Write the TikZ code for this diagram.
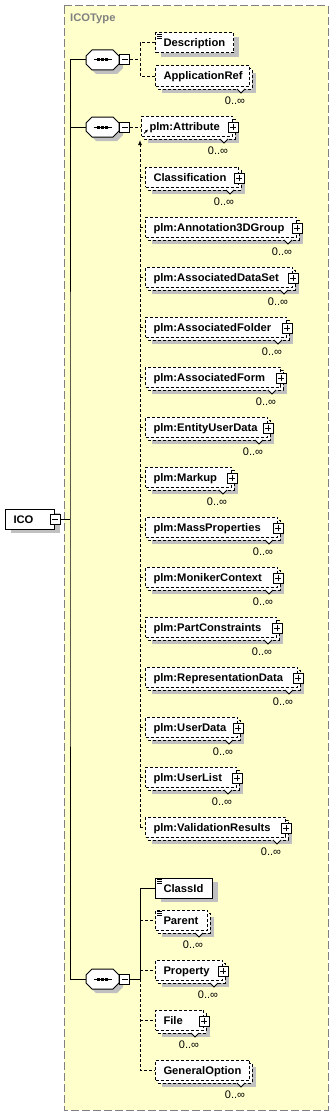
\documentclass[tikz,border=0pt]{standalone}
\usepackage{fontspec}
\setmainfont{Liberation Sans}
\newfontfamily\elemfont{Liberation Sans}[FakeStretch=1.02]
\usetikzlibrary{arrows.meta, shadows}
\definecolor{typefill}{RGB}{255,255,204}
\definecolor{typeframe}{RGB}{128,128,128}
\definecolor{shadowgray}{RGB}{192,192,192}
\tikzset{
  elem/.style={rectangle, draw=black, fill=white, anchor=west,
    minimum height=20pt, inner ysep=0pt, inner xsep=8pt, align=left,
    text height=9pt, text depth=1pt, line width=1pt,
    font=\elemfont\fontsize{11}{13}\selectfont\bfseries},
  optelem/.style={elem, dash pattern=on 3pt off 2pt},
  backbox/.style={draw=black, fill=white, line width=1pt, dash pattern=on 3pt off 2pt},
  boxshadow/.style={drop shadow={shadow xshift=5pt, shadow yshift=-4pt,
    fill=shadowgray, opacity=1}},
  seqbox/.style={rectangle, minimum width=33pt, minimum height=20pt, inner sep=0pt},
  seqshape/.style={draw=black, fill=white, line width=1pt},
  expander/.style={rectangle, draw=black, fill=white, minimum size=10pt,
    inner sep=0pt, line width=1pt},
  minusbox/.style={expander, path picture={
      \draw[line width=1pt] ([xshift=-3pt]path picture bounding box.center)
        -- ([xshift=3pt]path picture bounding box.center);}},
  plusbox/.style={expander, path picture={
      \draw[line width=1pt] ([xshift=-3pt]path picture bounding box.center)
        -- ([xshift=3pt]path picture bounding box.center);
      \draw[line width=1pt] ([yshift=-3pt]path picture bounding box.center)
        -- ([yshift=3pt]path picture bounding box.center);}},
  notch/.style={draw=black, fill=white, line width=1pt},
  card/.style={font=\fontsize{11}{13}\selectfont, inner sep=0pt},
  iconline/.style={line width=1pt},
  conn/.style={line width=1pt, color=black},
  optconn/.style={conn, dash pattern=on 3pt off 2pt}
}

\begin{document}
\begin{tikzpicture}[x=1pt, y=-1pt]
  \useasboundingbox (0,0) rectangle (333,1116);

  % Complex type frame
  \draw[fill=typefill, draw=typeframe, line width=1pt, dash pattern=on 8pt off 3pt] (64,6) rectangle (328,1110);
  \node[anchor=west, inner sep=0pt, color=typeframe, font=\elemfont\fontsize{11}{13}\selectfont\bfseries] (typename) at (70,19) {ICOType};

  % Root element
  \node[elem, boxshadow, text width=33pt] (ico) at (5,519) {ICO};
  \node[minusbox] (icoexp) at (ico.east) {};

  % Sequences
  \node[seqbox] (seq1) at (102.5,60) {};
  \node[seqbox] (seq2) at (102.5,127) {};
  \node[seqbox] (seq3) at (102.5,979) {};
  \foreach \s in {seq1, seq2, seq3}{
    \begin{scope}[shift={(\s.center)}]
      \fill[shadowgray] (-12.5,0) -- (-6.5,-6) -- (14.5,-6) -- (20.5,0) -- (20.5,8) -- (14.5,14) -- (-6.5,14) -- (-12.5,8) -- cycle;
      \draw[seqshape] (-16.5,-4) -- (-10.5,-10) -- (10.5,-10) -- (16.5,-4) -- (16.5,4) -- (10.5,10) -- (-10.5,10) -- (-16.5,4) -- cycle;
      \draw[line width=1pt] (-9,0) -- (9,0);
      \foreach \d in {-4,0,4}
        \fill (\d-1.5,-1.5) rectangle (\d+1.5,1.5);
    \end{scope}
  }
  \node[minusbox, anchor=west] (seq1exp) at (seq1.east) {};
  \node[minusbox, anchor=west] (seq2exp) at (seq2.east) {};
  \node[minusbox, anchor=west] (seq3exp) at (seq3.east) {};

  % Single elements
  \node[optelem, boxshadow, text width=62pt] (Description) at (155,43) {Description};
  \node[elem, boxshadow, text width=41pt] (ClassId) at (155,888) {ClassId};

  % Repeating elements of the first and last sequence
  \foreach \ename/\ey/\er/\eplus in {ApplicationRef/77/252/0, Parent/921/210/0,
      Property/971/225/1, File/1021/206/1, GeneralOption/1071/252/0}{
    \pgfmathsetmacro\etw{\er-3-155-16}
    \fill[shadowgray] (162,\ey-4) rectangle (\er+4,\ey+16);
    \draw[backbox] (158,\ey-8) rectangle (\er,\ey+12);
    \node[optelem, text width=\etw pt] (\ename) at (155,\ey-1) {\ename};
    \filldraw[notch] (\er-15,\ey+12) -- (\er-11,\ey+16) -- (\er-7,\ey+12);
    \ifnum\eplus=1
      \node[plusbox] (\ename-x) at (\er-2,\ey) {};
    \fi
    \node[card] (\ename-c) at (\er-17,\ey+24) {0..∞};
  }

  % Repeating elements of the middle sequence
  \foreach \ename/\ex/\ey/\er [count=\i] in {plm:Attribute/141/127/235,
      Classification/145/178/241, plm:Annotation3DGroup/145/228/299,
      plm:AssociatedDataSet/145/278/295, plm:AssociatedFolder/145/328/289,
      plm:AssociatedForm/145/378/283, plm:EntityUserData/145/428/270,
      plm:Markup/145/478/234, plm:MassProperties/145/528/280,
      plm:MonikerContext/145/578/280, plm:PartConstraints/145/628/279,
      plm:RepresentationData/145/678/300, plm:UserData/145/728/240,
      plm:UserList/145/778/239, plm:ValidationResults/145/828/288}{
    \pgfmathsetmacro\etw{\er-3-\ex-16}
    \fill[shadowgray] (\ex+7,\ey-4) rectangle (\er+4,\ey+16);
    \draw[backbox] (\ex+3,\ey-8) rectangle (\er,\ey+12);
    \node[optelem, text width=\etw pt] (g2e\i) at (\ex,\ey-1) {\ename};
    \filldraw[notch] (\er-15,\ey+12) -- (\er-11,\ey+16) -- (\er-7,\ey+12);
    \node[plusbox] (g2x\i) at (\er-2,\ey) {};
    \node[card] (g2c\i) at (\er-17,\ey+24) {0..∞};
  }

  % Simple content icons
  \foreach \n in {Description, ClassId, Parent}
    \foreach \k in {2,4,6}
      \draw[iconline] ([shift={(2,\k)}]\n.north west) -- ++(5,0);

  % Reference arrow
  \draw[-{Latex[length=3pt,width=3pt]}, line width=0.8pt] ([shift={(3,-3)}]g2e1.south west) -- ++(4,-4);

  % Connectors
  \coordinate (trunk) at (70,519);
  \draw[conn] (icoexp.east) -- (trunk);
  \draw[conn] (seq1.west) -| (trunk) |- (seq3.west);
  \draw[conn] (seq2.west) -- (seq2.west -| trunk);

  \coordinate (sp1) at (140,60);
  \draw[optconn] (seq1exp.east) -- (sp1);
  \draw[optconn] (Description.west) -| (sp1) |- (ApplicationRef.west);

  \coordinate (sp2) at (140,140);
  \draw[optconn] (seq2exp.east) -- (seq2exp.east -| g2e1.west);
  \draw[optconn, -{Latex[length=5pt,width=4pt]}] (g2e15.west -| sp2) -- (sp2);
  \foreach \i in {2,...,15}
    \draw[optconn] (g2e\i.west -| sp2) -- (g2e\i.west);

  \coordinate (sp3) at (140,979);
  \draw[conn] (seq3exp.east) -- (sp3) |- (ClassId.west);
  \draw[optconn] (sp3) |- (GeneralOption.west);
  \foreach \n in {Parent, Property, File}
    \draw[optconn] (\n.west -| sp3) -- (\n.west);
\end{tikzpicture}
\end{document}
